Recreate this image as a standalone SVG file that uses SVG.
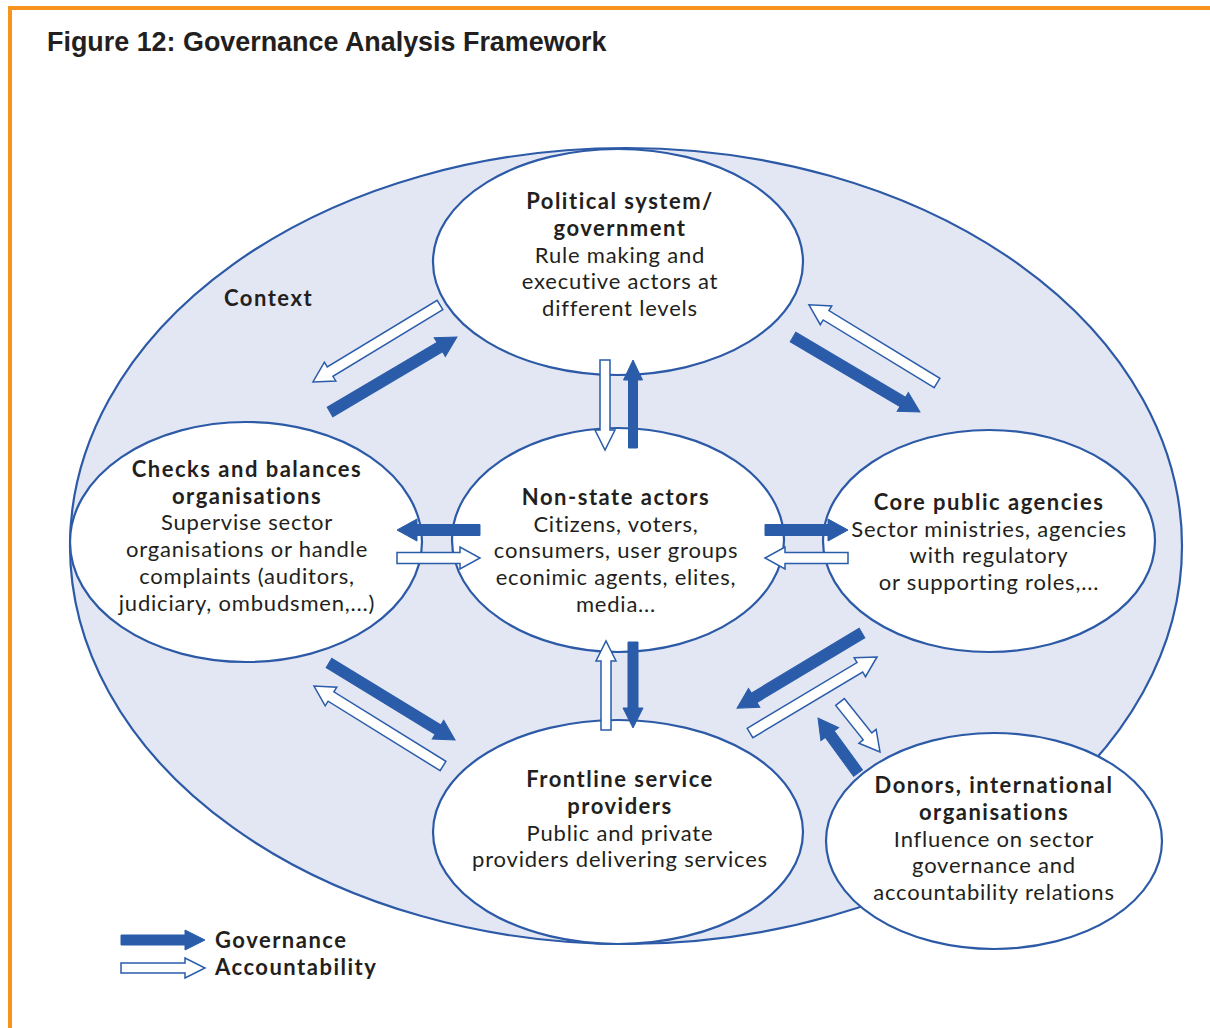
<svg xmlns="http://www.w3.org/2000/svg" width="1210" height="1028" viewBox="0 0 1210 1028">
<style>
.frame{fill:#f7941d}
.ctx{fill:#e3e6f3;stroke:#2c5aa6;stroke-width:2.2}
.node{fill:#ffffff;stroke:#2c5aa6;stroke-width:2.2}
.t{font-family:Lato,"Open Sans",sans-serif;font-size:22px;fill:#231f20;text-anchor:middle;letter-spacing:0.8px}
.b{font-weight:bold;letter-spacing:1.5px}
.title{font-family:"Liberation Sans",Arial,sans-serif;font-weight:bold;font-size:26.9px;fill:#231f20}
.gov{fill:#2a5caa;stroke:#2a5caa;stroke-width:1}
.acc{fill:#ffffff;stroke:#2a5caa;stroke-width:1.5}
.lbl{font-family:Lato,"Open Sans",sans-serif;font-size:22px;font-weight:bold;fill:#231f20;letter-spacing:1.5px}
</style>
<rect width="1210" height="1028" fill="#ffffff"/>
<rect class="frame" x="8" y="6" width="1202" height="4"/>
<rect class="frame" x="8" y="6" width="4" height="1022"/>
<text class="title" x="47" y="51">Figure 12: Governance Analysis Framework</text>

<g id="context">
<ellipse class="ctx" cx="626" cy="546" rx="556" ry="398"/>
<text class="lbl" x="224" y="306">Context</text>
</g>

<g id="political">
<ellipse class="node" cx="618" cy="262" rx="185" ry="113"/>
<text class="t b" x="620" y="209">Political system/</text>
<text class="t b" x="620" y="236">government</text>
<text class="t" x="620" y="263">Rule making and</text>
<text class="t" x="620" y="289">executive actors at</text>
<text class="t" x="620" y="316">different levels</text>
</g>

<g id="checks">
<ellipse class="node" cx="246" cy="542" rx="176" ry="120"/>
<text class="t b" x="247" y="477">Checks and balances</text>
<text class="t b" x="247" y="504">organisations</text>
<text class="t" x="247" y="530">Supervise sector</text>
<text class="t" x="247" y="557">organisations or handle</text>
<text class="t" x="247" y="584">complaints (auditors,</text>
<text class="t" x="247" y="611">judiciary, ombudsmen,...)</text>
</g>

<g id="nonstate">
<ellipse class="node" cx="618" cy="540" rx="166" ry="112"/>
<text class="t b" x="616" y="505">Non-state actors</text>
<text class="t" x="616" y="532">Citizens, voters,</text>
<text class="t" x="616" y="558">consumers, user groups</text>
<text class="t" x="616" y="585">econimic agents, elites,</text>
<text class="t" x="616" y="612">media...</text>
</g>

<g id="core">
<ellipse class="node" cx="989" cy="541" rx="166" ry="111"/>
<text class="t b" x="989" y="510">Core public agencies</text>
<text class="t" x="989" y="537">Sector ministries, agencies</text>
<text class="t" x="989" y="563">with regulatory</text>
<text class="t" x="989" y="590">or supporting roles,...</text>
</g>

<g id="frontline">
<ellipse class="node" cx="618" cy="832" rx="185" ry="112"/>
<text class="t b" x="620" y="787">Frontline service</text>
<text class="t b" x="620" y="814">providers</text>
<text class="t" x="620" y="841">Public and private</text>
<text class="t" x="620" y="867">providers delivering services</text>
</g>

<g id="donors">
<ellipse class="node" cx="994" cy="841" rx="168" ry="108"/>
<text class="t b" x="994" y="793">Donors, international</text>
<text class="t b" x="994" y="820">organisations</text>
<text class="t" x="994" y="847">Influence on sector</text>
<text class="t" x="994" y="873">governance and</text>
<text class="t" x="994" y="900">accountability relations</text>
</g>

<g id="connectors">
<!-- political <-> checks -->
<path class="acc" transform="translate(440,305) rotate(148.8)" d="M0,-5.5H128.5V-11L148.5,0L128.5,11V5.5H0Z"/>
<path class="gov" transform="translate(330,412) rotate(-30.6)" d="M0,-5.5H127.5V-11L147.5,0L127.5,11V5.5H0Z"/>
<!-- political <-> core -->
<path class="acc" transform="translate(937,383) rotate(-148.6)" d="M0,-5.5H130V-11L150,0L130,11V5.5H0Z"/>
<path class="gov" transform="translate(793,337) rotate(30.6)" d="M0,-5.5H127.5V-11L147.5,0L127.5,11V5.5H0Z"/>
<!-- political <-> nonstate -->
<path class="acc" transform="translate(605,360) rotate(90)" d="M0,-5H70V-10L90,0L70,10V5H0Z"/>
<path class="gov" transform="translate(633,448) rotate(-90)" d="M0,-4.5H68V-9.5L88,0L68,9.5V4.5H0Z"/>
<!-- checks <-> nonstate -->
<path class="gov" transform="translate(480,530) rotate(180)" d="M0,-5.5H63V-11L83,0L63,11V5.5H0Z"/>
<path class="acc" transform="translate(397,558)" d="M0,-5.5H63V-11L83,0L63,11V5.5H0Z"/>
<!-- nonstate <-> core -->
<path class="gov" transform="translate(765,530)" d="M0,-5.5H63V-11L83,0L63,11V5.5H0Z"/>
<path class="acc" transform="translate(848,558) rotate(180)" d="M0,-5.5H63V-11L83,0L63,11V5.5H0Z"/>
<!-- nonstate <-> frontline -->
<path class="acc" transform="translate(606,730) rotate(-90)" d="M0,-5H69V-10L89,0L69,10V5H0Z"/>
<path class="gov" transform="translate(633,642) rotate(90)" d="M0,-5H66V-10L86,0L66,10V5H0Z"/>
<!-- checks <-> frontline -->
<path class="gov" transform="translate(329,663) rotate(31.4)" d="M0,-5.5H127.7V-11L147.7,0L127.7,11V5.5H0Z"/>
<path class="acc" transform="translate(443,766) rotate(-148.2)" d="M0,-5.5H131.8V-11L151.8,0L131.8,11V5.5H0Z"/>
<!-- core <-> frontline -->
<path class="gov" transform="translate(862,633) rotate(149)" d="M0,-5.5H125.8V-11L145.8,0L125.8,11V5.5H0Z"/>
<path class="acc" transform="translate(750,733) rotate(-30.9)" d="M0,-5.5H128V-11L148,0L128,11V5.5H0Z"/>
<!-- core <-> donors -->
<path class="acc" transform="translate(840,702) rotate(51.3)" d="M0,-5.5H44V-11L64,0L44,11V5.5H0Z"/>
<path class="gov" transform="translate(858,773) rotate(-126)" d="M0,-5.5H48V-11L68,0L48,11V5.5H0Z"/>
</g>

<g id="legend">
<path class="gov" transform="translate(121,940)" d="M0,-5H64V-10L84,0L64,10V5H0Z"/>
<path class="acc" transform="translate(121,968)" d="M0,-5H64V-10L84,0L64,10V5H0Z"/>
<text class="lbl" x="215" y="948">Governance</text>
<text class="lbl" x="215" y="975">Accountability</text>
</g>
</svg>
